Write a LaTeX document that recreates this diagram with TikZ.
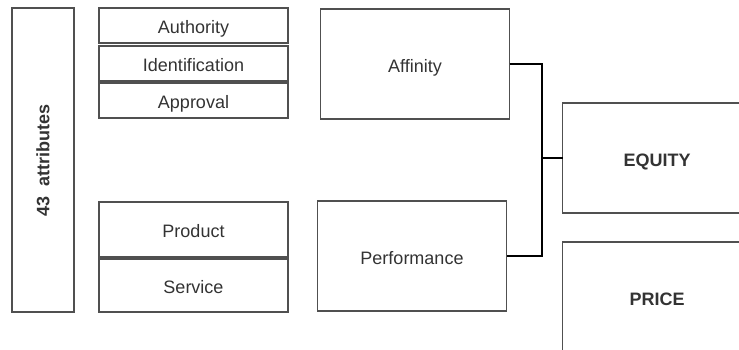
\documentclass[tikz,border=0pt]{standalone}
\usepackage{fontspec}
\setmainfont{Liberation Sans}
\usepackage{xcolor}
\usepackage{tikz}

\definecolor{boxgray}{HTML}{505050}
\definecolor{textgray}{HTML}{333333}

\begin{document}
\begin{tikzpicture}[x=1pt,y=-1pt,
  box/.style={draw=boxgray,line width=1.3pt,inner sep=0pt,outer sep=0pt,
    text=textgray,text height=16pt,text depth=0pt,font=\fontsize{18}{20}\selectfont},
  bigbox/.style={box,minimum width=189pt,minimum height=110pt},
  bold/.style={font=\fontsize{18}{20}\selectfont\bfseries},
  link/.style={line width=1.5pt,black}]
  \useasboundingbox (0,0) rectangle (739,349);
  \clip (0,0) rectangle (739,349);

  % Attributes column
  \node[box,bold,minimum width=62pt,minimum height=304pt] (attr) at (43,160) {};
  \node[rotate=90,bold,text=textgray,text height=12.8pt,text depth=0pt,inner sep=0pt]
    at (attr.center) {43\ \ attributes};

  % Affinity drivers
  \node[box,minimum width=189pt,minimum height=35pt] (authority) at (193.5,25.5) {Authority};
  \node[box,minimum width=189pt,minimum height=35pt] (ident) at (193.5,63.5) {Identification};
  \node[box,minimum width=189pt,minimum height=35pt] (approval) at (193.5,100.5) {Approval};

  % Performance drivers
  \node[box,minimum width=189pt,minimum height=55pt] (product) at (193.5,229.5) {Product};
  \node[box,minimum width=189pt,minimum height=53pt] (service) at (193.5,285.5) {Service};

  % Middle column
  \node[bigbox] (affinity) at (415,64) {Affinity};
  \node[bigbox] (performance) at (412,256) {Performance};

  % Outcomes
  \node[bigbox,bold] (equity) at (657,158) {EQUITY};
  \node[bigbox,bold] (price) at (657,297) {PRICE};

  % Connector
  \coordinate (join) at (542,158);
  \draw[link] (affinity.east) -| (join) |- (performance.east);
  \draw[link] (join) -- (equity.west);

\end{tikzpicture}
\end{document}
